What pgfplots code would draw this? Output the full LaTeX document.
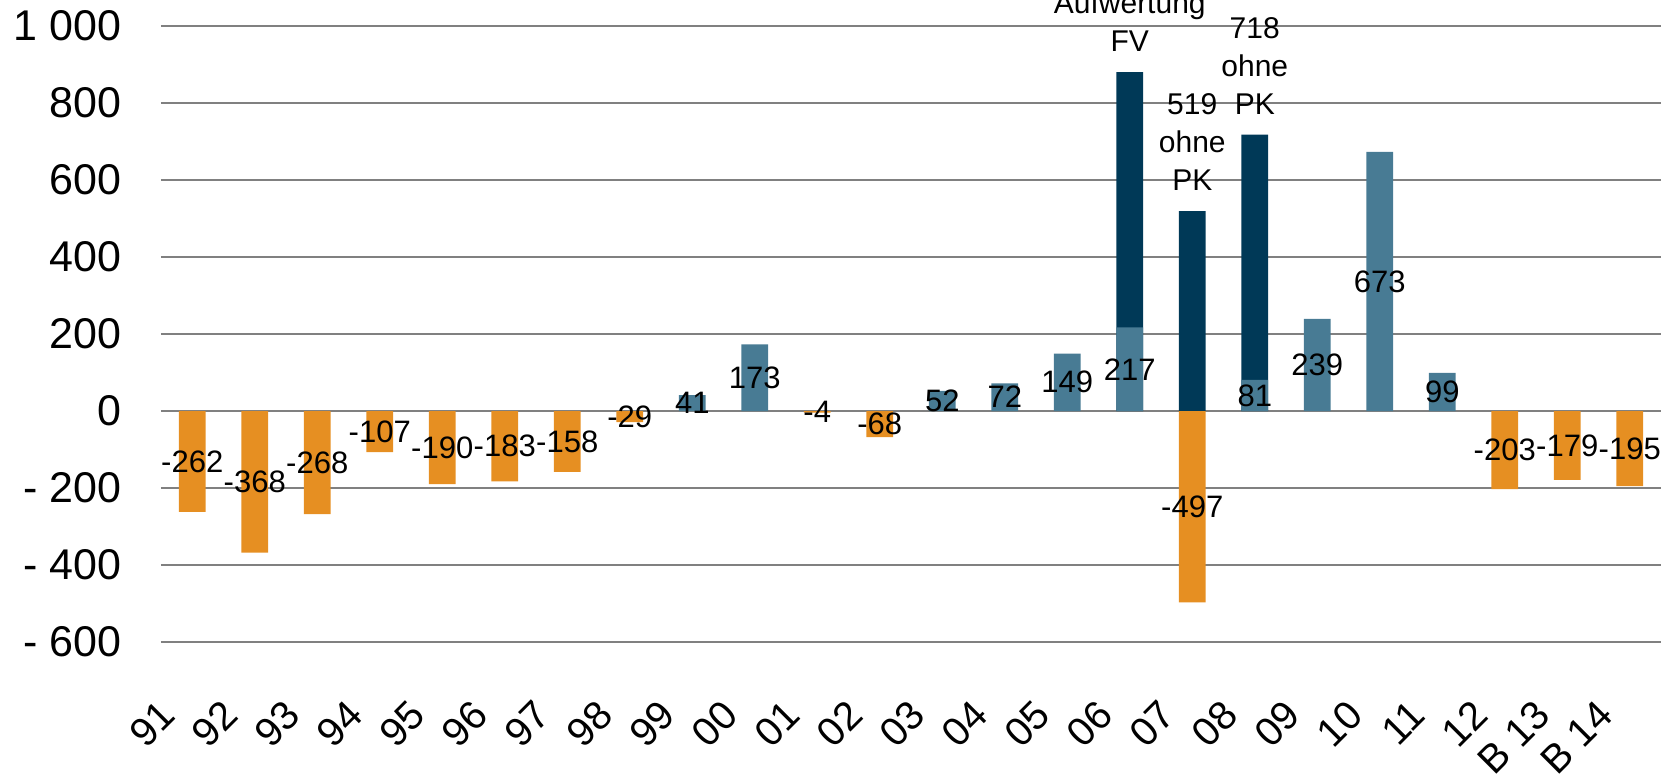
\documentclass[border=0pt]{standalone}
\usepackage{fontspec}
\setmainfont{Liberation Sans}
\usepackage{pgfplots}
\pgfplotsset{compat=1.18}
\definecolor{cOr}{RGB}{230,143,34}
\definecolor{cTe}{RGB}{72,123,148}
\definecolor{cNa}{RGB}{0,57,87}
\definecolor{cGr}{RGB}{128,128,128}
\protected\def\lA{Aufwertung\\FV}
\protected\def\lB{519\\ohne\\PK}
\protected\def\lC{718\\ohne\\PK}
\begin{document}
\begin{tikzpicture}
\begin{axis}[
  at={(0,0)}, anchor=south west,
  scale only axis, width=750bp, height=308bp,
  xmin=-0.5, xmax=23.5, ymin=-600, ymax=1000,
  axis line style={draw=none},
  major tick length=0pt,
  ytick={-600,-400,...,1000},
  yticklabels={- 600,- 400,- 200,0,200,400,600,800,1 000},
  xtick={0,...,23},
  xticklabels={91,92,93,94,95,96,97,98,99,00,01,02,03,04,05,06,07,08,09,10,11,12,B 13,B 14},
  ymajorgrids, grid style={cGr, line width=0.7bp},
  yticklabel style={font=\fontsize{21.5bp}{25bp}\selectfont, inner sep=0pt, anchor=east, xshift=-19.5bp},
  xticklabel style={font=\fontsize{20bp}{24bp}\selectfont, inner sep=0pt, xshift=-12bp, yshift=-33bp, rotate=45, anchor=east},
  clip=false,
]
\addplot[ybar, bar width=0.43, bar shift=0pt, fill=cNa, draw=none,
  nodes near coords, point meta=explicit symbolic,
  every node near coord/.append style={font=\fontsize{15bp}{19bp}\selectfont, align=center, inner sep=0pt, yshift=10bp, text=black}]
  coordinates {(15,880) [\lA] (16,519) [\lB] (17,718) [\lC]};
\addplot[ybar, bar width=0.43, bar shift=0pt, fill=cOr, draw=none]
  coordinates {(0,-262) (1,-368) (2,-268) (3,-107) (4,-190) (5,-183) (6,-158) (7,-29) (10,-4) (11,-68) (16,-497) (21,-203) (22,-179) (23,-195)};
\addplot[ybar, bar width=0.43, bar shift=0pt, fill=cTe, draw=none]
  coordinates {(8,41) (9,173) (12,52) (13,72) (14,149) (15,217) (17,81) (18,239) (19,673) (20,99)};
\addplot[draw=none, mark=none,
  nodes near coords, point meta=explicit symbolic, nodes near coords align={center},
  every node near coord/.append style={font=\fontsize{15.5bp}{18bp}\selectfont, inner sep=0pt, anchor=center, text=black}]
  coordinates {(0,-131) [-262] (1,-184) [-368] (2,-134) [-268] (3,-53.5) [-107]
  (4,-95) [-190] (5,-91.5) [-183] (6,-79) [-158] (7,-14.5) [-29] (8,20.5) [41]
  (9,86.5) [173] (10,-2) [-4] (11,-34) [-68] (12,26) [52] (13,36) [72]
  (14,74.5) [149] (15,108.5) [217] (16,-248.5) [-497] (17,40.5) [81]
  (18,119.5) [239] (19,336.5) [673] (20,49.5) [99] (21,-101.5) [-203]
  (22,-89.5) [-179] (23,-97.5) [-195]};
\end{axis}
\pgfresetboundingbox
\path[use as bounding box] (-80.5bp,-70bp) rectangle (754bp,321bp);
\end{tikzpicture}
\end{document}
